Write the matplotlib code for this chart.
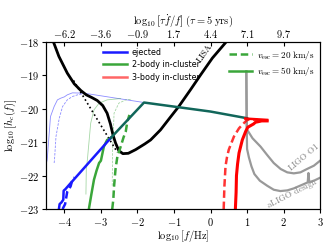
import numpy as np
import matplotlib
matplotlib.use("Agg")
import matplotlib.pyplot as plt

plt.rcParams['mathtext.fontset'] = 'cm'
plt.rcParams['font.family'] = 'DejaVu Sans'

# LISA sensitivity (with galactic confusion) and instrument-only (dotted)
lisa_x = [-4.35, -4.15, -3.92, -3.73, -3.55, -3.40, -3.25, -3.10, -2.95, -2.83, -2.74,
          -2.67, -2.60, -2.51, -2.40, -2.25, -2.05, -1.80, -1.64, -1.37, -1.10, -0.87,
          -0.55, -0.27, 0.05, 0.41, 0.50]
lisa_y = [-17.85, -18.43, -18.93, -19.25, -19.45, -19.58, -19.66, -19.75, -19.90, -20.13, -20.45,
          -20.78, -21.02, -21.25, -21.34, -21.33, -21.22, -21.05, -20.93, -20.63, -20.25, -19.93,
          -19.43, -18.98, -18.48, -18.02, -17.88]
lisa_inst_x = [-3.75, -2.55]
lisa_inst_y = [-19.15, -21.30]

# aLIGO design and LIGO O1
aligo_x = [0.98, 0.99, 1.00, 1.05, 1.12, 1.20, 1.35, 1.55, 1.73, 1.91, 2.10, 2.28, 2.45, 2.62, 2.66,
           2.68, 2.70, 2.74, 2.85, 3.0]
aligo_y = [-18.88, -20.5, -21.2, -21.45, -21.72, -21.95, -22.15, -22.30, -22.42, -22.46, -22.44,
           -22.38, -22.30, -22.22, -22.20, -21.92, -22.19, -22.18, -22.14, -22.06]
o1_x = [0.98, 0.99, 1.00, 1.15, 1.37, 1.55, 1.73, 1.92, 2.10, 2.28, 2.46, 2.64, 2.83, 3.0]
o1_y = [-18.88, -20.3, -20.62, -20.88, -21.13, -21.38, -21.62, -21.80, -21.90, -21.93, -21.90,
        -21.80, -21.70, -21.55]

# ejected (blue)
ej50_x = [-4.15, -4.13, -4.08, -4.03, -4.02, -3.97, -3.85, -2.73]
ej50_y = [-23.0, -22.85, -22.80, -22.72, -22.45, -22.40, -22.25, -20.87]
ej20_x = [-4.05, -3.98, -3.96, -3.92, -3.83, -3.78, -3.72]
ej20_y = [-23.0, -22.85, -22.72, -22.47, -22.32, -22.12, -22.05]

# 2-body in-cluster (green)
tb50_x = [-3.33, -3.26, -3.19, -3.12, -3.05, -3.00, -2.92, -2.83, -2.73]
tb50_y = [-23.0, -22.55, -22.12, -21.85, -21.62, -21.55, -21.13, -20.93, -20.87]
tb20_x = [-2.69, -2.66, -2.64, -2.60, -2.55, -2.45, -2.38, -2.32, -2.28, -2.22]
tb20_y = [-23.0, -22.70, -22.32, -21.80, -21.43, -21.10, -20.85, -20.68, -20.40, -20.18]

# common inspiral track shared by ejected and 2-body binaries
com_x = [-2.73, -1.82, 0.0, 1.0]
com_y = [-20.87, -19.81, -20.08, -20.28]

# 3-body in-cluster (red)
th50_x = [0.68, 0.70, 0.71, 0.74, 0.78, 0.87, 0.96, 1.02, 1.10, 1.18, 1.23, 1.32, 1.40, 1.55]
th50_y = [-23.0, -22.5, -22.0, -21.65, -21.32, -20.93, -20.68, -20.55, -20.50, -20.45, -20.40,
          -20.38, -20.36, -20.36]
th20_x = [0.36, 0.38, 0.41, 0.45, 0.50, 0.64, 0.78, 0.91, 1.00, 1.15, 1.30]
th20_y = [-23.0, -22.32, -21.72, -21.45, -21.22, -20.83, -20.58, -20.43, -20.33, -20.32, -20.33]
top_x = [0.95, 1.55]
top_y = [-20.29, -20.33]

# faint tracks (initial populations)
fej50_x = [-4.55, -4.47, -4.38, -4.28, -4.19, -4.10, -4.00, -3.92, -3.78, -3.46, -1.82]
fej50_y = [-21.9, -21.52, -20.23, -19.93, -19.73, -19.68, -19.64, -19.58, -19.52, -19.53, -19.81]
fej20_x = [-4.28, -4.27, -4.23, -4.14, -4.05, -3.92, -3.78, -3.64, -3.50]
fej20_y = [-21.62, -21.52, -20.83, -20.28, -19.93, -19.73, -19.63, -19.58, -19.55]
ftb50_x = [-3.41, -3.40, -3.37, -3.28, -3.19, -3.05, -2.83, -2.46]
ftb50_y = [-22.55, -21.8, -21.52, -20.43, -20.03, -19.83, -19.73, -19.69]
ftb20_x = [-2.69, -2.68, -2.64, -2.51, -2.32, -2.15]
ftb20_y = [-22.3, -21.2, -20.13, -19.83, -19.73, -19.71]

xticks = [-4, -3, -2, -1, 0, 1, 2, 3]
yticks = [-23, -22, -21, -20, -19, -18]
top_ticks = [-4, -3, -2, -1, 0, 1, 2]
top_labels = ['-6.2', '-3.6', '-0.9', '1.7', '4.4', '7.1', '9.7']

blue = '#1a1aff'
green = '#3aa63a'
red = '#ff0000'
teal = '#11665a'
grey = '#999999'
fs = 7.5

fig = plt.figure(figsize=(3.27, 2.46), dpi=100)
ax = fig.add_axes([0.141, 0.15, 0.838, 0.679])

ax.plot(fej50_x, fej50_y, color=blue, lw=0.6, alpha=0.5)
ax.plot(fej20_x, fej20_y, color=blue, lw=0.6, alpha=0.5, ls='--', dashes=(3, 1.5))
ax.plot(ftb50_x, ftb50_y, color=green, lw=0.6, alpha=0.45)
ax.plot(ftb20_x, ftb20_y, color=green, lw=0.6, alpha=0.45, ls='--', dashes=(3, 1.5))

ax.plot(lisa_x, lisa_y, color='k', lw=2)
ax.plot(lisa_inst_x, lisa_inst_y, color='k', lw=1.2, ls=':')

ax.plot(aligo_x, aligo_y, color=grey, lw=1.6)
ax.plot(o1_x, o1_y, color=grey, lw=1.6)

ax.plot(tb50_x, tb50_y, color=green, lw=1.8)
ax.plot(tb20_x, tb20_y, color=green, lw=1.8, ls='--', dashes=(3, 1.5))
ax.plot(ej50_x, ej50_y, color=blue, lw=1.8)
ax.plot(ej20_x, ej20_y, color=blue, lw=1.8, ls='--', dashes=(3, 1.5))
ax.plot(com_x, com_y, color=teal, lw=1.8)
ax.plot(th20_x, th20_y, color=red, lw=1.8, ls='--', dashes=(3, 1.5), alpha=0.8)
ax.plot(th50_x, th50_y, color=red, lw=2.2)
ax.plot(top_x, top_y, color=red, lw=1.8)

ax.text(-0.17, -18.32, r'$\rm LISA$', rotation=55, ha='center', va='center', fontsize=6.5)
ax.text(2.55, -21.42, r'$\rm LIGO\ O1$', rotation=40, ha='center', va='center',
        fontsize=6.5, color='#888888')
ax.text(2.25, -22.52, r'$\rm aLIGO\ design$', rotation=27, ha='center', va='center',
        fontsize=6.5, color='#888888')

ax.set_xlim(-4.5, 3)
ax.set_ylim(-23, -18)
ax.set_xticks(xticks)
ax.set_xticklabels([r'$%d$' % t for t in xticks])
ax.set_yticks(yticks)
ax.set_yticklabels([r'$%d$' % t for t in yticks])
ax.tick_params(labelsize=fs, length=3, width=0.8, pad=2)
ax.set_xlabel(r'$\log_{10}\left[f/{\rm Hz}\right]$', fontsize=fs, labelpad=0)
ax.set_ylabel(r'$\log_{10}\left[h_c(f)\right]$', fontsize=fs, labelpad=0)

l1 = [plt.Line2D([], [], color=blue, lw=1.8),
      plt.Line2D([], [], color=green, lw=1.8),
      plt.Line2D([], [], color=red, lw=1.8, alpha=0.6)]
leg1 = ax.legend(l1, ['ejected', '2-body in-cluster', '3-body in-cluster'], loc='upper left',
                 bbox_to_anchor=(0.18, 1.01), frameon=False, fontsize=5.8, handlelength=3.0,
                 labelspacing=0.45, handletextpad=0.6)
ax.add_artist(leg1)
l2 = [plt.Line2D([], [], color=green, lw=1.8, ls='--', dashes=(3, 1.5)),
      plt.Line2D([], [], color=green, lw=1.8)]
ax.legend(l2, [r'$v_{\rm esc} = 20\ {\rm km/s}$', r'$v_{\rm esc} = 50\ {\rm km/s}$'],
          loc='upper right', bbox_to_anchor=(1.01, 1.01), frameon=False, fontsize=6.6,
          handlelength=2.6, labelspacing=0.35, handletextpad=0.5)

ax2 = ax.twiny()
ax2.set_xlim(ax.get_xlim())
ax2.set_xticks(top_ticks)
ax2.set_xticklabels([r'$%s$' % s for s in top_labels])
ax2.tick_params(labelsize=fs, direction='in', length=3, width=0.8, pad=1.5)
ax2.set_xlabel(r'$\log_{10}\left[\tau\dot{f}/f\right]\ (\tau=5\ {\rm yrs})$', fontsize=fs,
               labelpad=3)

fig.savefig('out.png', dpi=100)
